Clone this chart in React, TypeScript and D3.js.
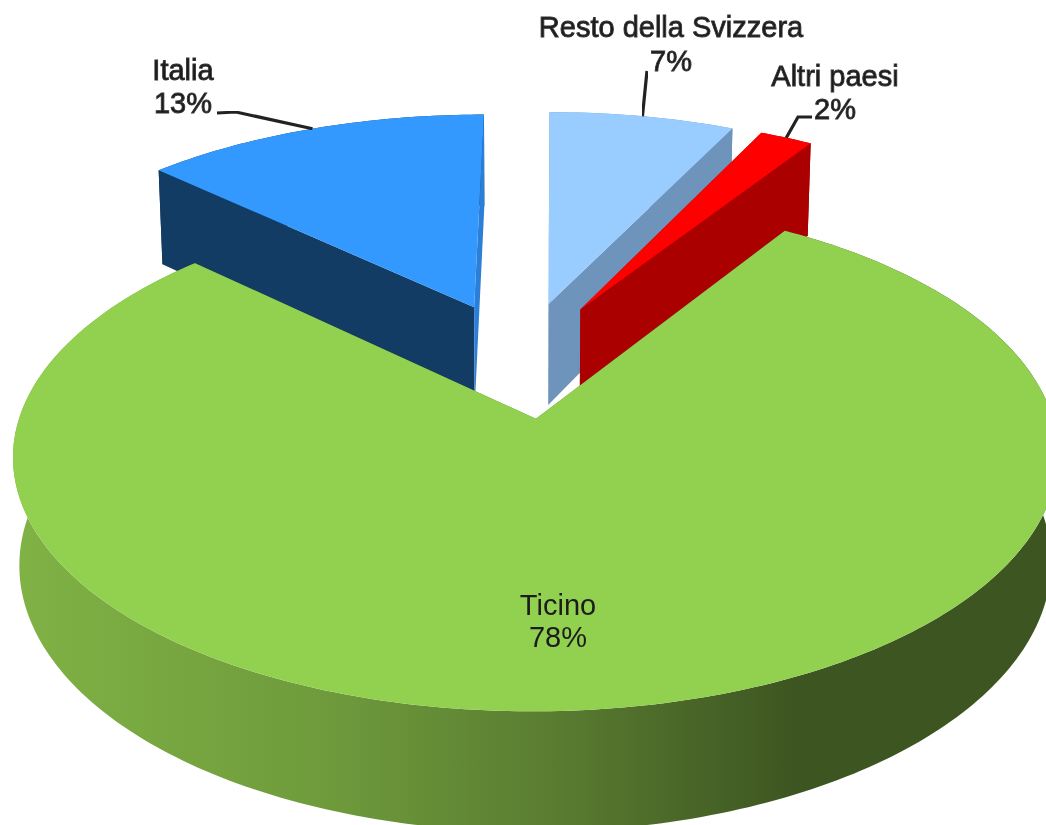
import React from 'react'
import * as d3 from 'd3'

const width = 1046
const height = 825

const categories = ['Ticino', 'Italia', 'Resto della Svizzera', 'Altri paesi']
const shares = [78, 13, 7, 2]
const shareLabels = ['78%', '13%', '7%', '2%']

// colours per category
const topColors = ['#92d050', '#3399ff', '#99ccff', '#ff0000']
const startWallColors = ['#5c8032', '#123c64', '#6f94bc', '#aa0000']
const endWallColors = ['#5c8032', '#2c7fd6', '#6f94bc', '#aa0000']

const rimStops = [
	[0, '#80b245'],
	[0.3, '#6f9b3c'],
	[0.5, '#5c8032'],
	[0.76, '#3d5521'],
	[1, '#3d5521'],
]

// the perspective of the pie, fitted by eye
const centerX = 521
const centerY = 359
const radiusX = 499
const radiusY = 233
const thickness = 105
const depthK = 0.14
const depthZ = 0.012
const skew = 5
const explode = 0.25
const firstAngle = (32.4 * Math.PI) / 180
const arcStep = Math.PI / 180

type Point = [number, number]

const project = (x: number, y: number, z: number): Point => {
	const w = 1 + depthK * y + depthZ * z
	return [centerX + (radiusX * x + skew * y) / w, centerY - (radiusY * y - thickness * z) / w]
}

const pie = d3.pie<number>().sort(null).startAngle(firstAngle).endAngle(firstAngle + 2 * Math.PI)
const slices = pie(shares)

const line = d3.line<Point>()

// offset of a slice away from the middle of the pie
const offsetOf = (d: d3.PieArcDatum<number>) => {
	const mid = (d.startAngle + d.endAngle) / 2
	return [explode * Math.sin(mid), explode * Math.cos(mid)]
}

const rimPoint = (d: d3.PieArcDatum<number>, angle: number, z: number): Point => {
	const [ox, oy] = offsetOf(d)
	return project(ox + Math.sin(angle), oy + Math.cos(angle), z)
}

const arcPoints = (d: d3.PieArcDatum<number>, z: number): Point[] => {
	const pts = d3.range(d.startAngle, d.endAngle, arcStep).map((a) => rimPoint(d, a, z))
	pts.push(rimPoint(d, d.endAngle, z))
	return pts
}

const apex = (d: d3.PieArcDatum<number>, z: number): Point => {
	const [ox, oy] = offsetOf(d)
	return project(ox, oy, z)
}

const topPath = (d: d3.PieArcDatum<number>) => line([apex(d, 0), ...arcPoints(d, 0)]) + 'Z'
const rimPath = (d: d3.PieArcDatum<number>) =>
	line([...arcPoints(d, 0), ...arcPoints(d, 1).reverse()]) + 'Z'
const wallPath = (d: d3.PieArcDatum<number>, angle: number) =>
	line([apex(d, 0), rimPoint(d, angle, 0), rimPoint(d, angle, 1), apex(d, 1)]) + 'Z'

// back slices first, the big front one over them
const drawOrder = d3
	.range(slices.length)
	.sort((a, b) => d3.descending(offsetOf(slices[a])[1], offsetOf(slices[b])[1]))

// label centre and first baseline per category
const labelX = [558, 183, 671, 835]
const labelY = [615, 80, 37, 86]
const labelGap = [32, 33, 34, 33]

// where the leader lines leave the labels (none for Ticino)
const leaderStarts: Point[][] = [[], [[217, 113], [236, 112]], [[647, 71]], [[812, 117], [798, 117]]]

const App = () => (
	<svg
		width={width}
		height={height}
		viewBox={`0 0 ${width} ${height}`}
		style={{ position: 'fixed', left: 0, top: 0, background: 'white' }}
	>
		<defs>
			<linearGradient id="rim" gradientUnits="userSpaceOnUse" x1={13} x2={width} y1={0} y2={0}>
				{rimStops.map(([offset, color]) => (
					<stop key={offset} offset={offset} stopColor={color as string} />
				))}
			</linearGradient>
			<filter id="soft" x="-5%" y="-5%" width="110%" height="110%">
				<feGaussianBlur stdDeviation="0.6" />
			</filter>
		</defs>

		{drawOrder.map((i) => {
			const d = slices[i]
			return (
				<g key={categories[i]}>
					<path d={rimPath(d)} fill={i === 0 ? 'url(#rim)' : startWallColors[i]} />
					<path d={wallPath(d, d.startAngle)} fill={startWallColors[i]} />
					<path d={wallPath(d, d.endAngle)} fill={endWallColors[i]} />
					<path d={topPath(d)} fill={topColors[i]} />
				</g>
			)
		})}

		{slices.map((d, i) =>
			leaderStarts[i].length ? (
				<path
					key={categories[i]}
					d={line([...leaderStarts[i], rimPoint(d, (d.startAngle + d.endAngle) / 2, 0)]) as string}
					fill="none"
					stroke="#222"
					strokeWidth={3.2}
					filter="url(#soft)"
				/>
			) : null,
		)}

		<g
			fontFamily="'Liberation Sans', Arial, sans-serif"
			fontSize={29}
			textAnchor="middle"
			fill="#1c1c1c"
			filter="url(#soft)"
		>
			{categories.map((name, i) => (
				<g key={name} stroke={i === 0 ? 'none' : '#333'} strokeWidth={0.9}>
					<text x={labelX[i]} y={labelY[i]}>
						{name}
					</text>
					<text x={labelX[i]} y={labelY[i] + labelGap[i]}>
						{shareLabels[i]}
					</text>
				</g>
			))}
		</g>
	</svg>
)

export default App
